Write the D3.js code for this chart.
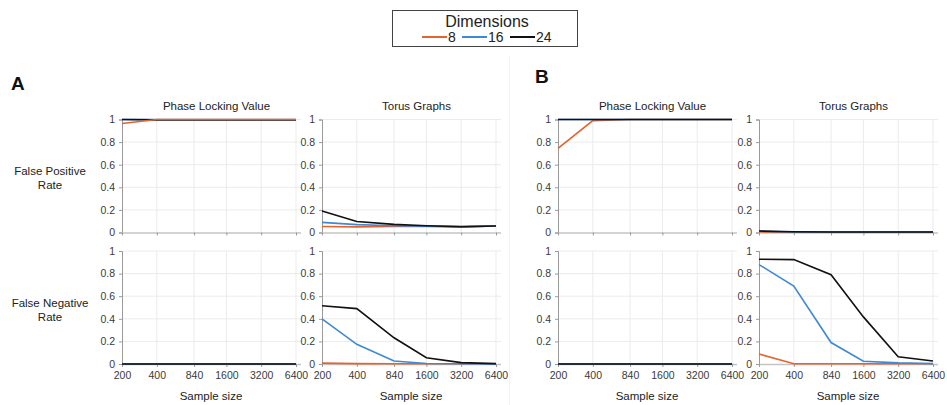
<!DOCTYPE html>
<html>
<head>
<meta charset="utf-8">
<script src="https://cdn.jsdelivr.net/npm/d3@7"></script>
<style>
body { margin: 0; background: #fff; }
svg { font-family: "Liberation Sans", Arial, sans-serif; }
.tick text { fill: #3a3a3a; font-size: 10.5px; }
.grid line { stroke: #ebebeb; stroke-width: 1; }
</style>
</head>
<body>
<svg id="chart" width="947" height="405"></svg>
<script>
// data
var sampleSizes = [200, 400, 840, 1600, 3200, 6400];
var dimensions = ['8', '16', '24'];
var colors = ['#e2642f', '#3f88d4', '#111111'];
var yTicks = [0, 0.2, 0.4, 0.6, 0.8, 1];
var methods = ['Phase Locking Value', 'Torus Graphs'];
var rates = [['False Positive', 'Rate'], ['False Negative', 'Rate']];

// each array: [dim 8, dim 16, dim 24]
var aPlvFpr = [
	[0.965, 1, 1, 1, 1, 1],
	[1, 1, 1, 1, 1, 1],
	[1, 0.997, 0.997, 0.997, 0.997, 0.997]
];
var aPlvFnr = [
	[0, 0, 0, 0, 0, 0],
	[0, 0, 0, 0, 0, 0],
	[0, 0, 0, 0, 0, 0]
];
var aTorFpr = [
	[0.053, 0.05, 0.053, 0.055, 0.05, 0.058],
	[0.09, 0.07, 0.06, 0.055, 0.05, 0.058],
	[0.19, 0.097, 0.072, 0.06, 0.052, 0.058]
];
var aTorFnr = [
	[0.008, 0.003, 0.002, 0.002, 0.002, 0.002],
	[0.40, 0.174, 0.026, 0.005, 0.002, 0],
	[0.515, 0.49, 0.232, 0.056, 0.012, 0.003]
];
var bPlvFpr = [
	[0.744, 0.99, 1, 1, 1, 1],
	[1, 1, 1, 1, 1, 1],
	[1, 1, 1, 1, 1, 1]
];
var bPlvFnr = [
	[0, 0, 0, 0, 0, 0],
	[0, 0, 0, 0, 0, 0],
	[0, 0, 0, 0, 0, 0]
];
var bTorFpr = [
	[0.004, 0.003, 0.003, 0.003, 0.003, 0.003],
	[0.012, 0.005, 0.004, 0.004, 0.004, 0.004],
	[0.013, 0.006, 0.005, 0.005, 0.005, 0.005]
];
var bTorFnr = [
	[0.088, 0.002, 0.002, 0.002, 0.002, 0.002],
	[0.88, 0.69, 0.19, 0.024, 0.01, 0.003],
	[0.927, 0.924, 0.79, 0.417, 0.064, 0.026]
];

var svg = d3.select('#chart');

// layout
var panels = [
	{ label: 'A', lx: 11, ly: 90, cols: [122, 322], rows: [[aPlvFpr, aTorFpr], [aPlvFnr, aTorFnr]], orangeOnTop: true },
	{ label: 'B', lx: 535, ly: 83, cols: [558, 759], rows: [[bPlvFpr, bTorFpr], [bPlvFnr, bTorFnr]], orangeOnTop: false }
];
var plotW = 174, extraW = 5;
var rowTops = [119.5, 251];
var plotH = 113;

// faint separator between A and B
svg.append('line')
	.attr('x1', 509.5).attr('x2', 509.5).attr('y1', 55).attr('y2', 405)
	.attr('stroke', '#f4f4f4').attr('stroke-width', 1);

panels.forEach(function(panel, pi) {
	svg.append('text').text(panel.label)
		.attr('x', panel.lx).attr('y', panel.ly)
		.style('font-size', '19px').style('font-weight', 'bold').attr('fill', '#111');

	if (pi == 0) {
		rates.forEach(function(r, ri) {
			var cy = rowTops[ri] + plotH / 2;
			var t = svg.append('text')
				.attr('text-anchor', 'middle')
				.attr('x', 50).attr('y', cy - 1)
				.style('font-size', '11.5px').attr('fill', '#222');
			t.append('tspan').attr('x', 50).attr('dy', 0).text(r[0]);
			t.append('tspan').attr('x', 50).attr('dy', 14).text(r[1]);
		});
	}

	panel.cols.forEach(function(x0, ci) {
		var x = d3.scaleLog().base(2)
			.domain([200, 6400])
			.range([x0, x0 + plotW]);

		svg.append('text').text(methods[ci])
			.attr('text-anchor', 'middle')
			.attr('x', x0 + (plotW + extraW) / 2 + 5)
			.attr('y', rowTops[0] - 10)
			.style('font-size', '11.5px').attr('fill', '#222');

		panel.rows.forEach(function(row, ri) {
			var top = rowTops[ri];
			var y = d3.scaleLinear().domain([0, 1]).range([top + plotH, top]);
			var g = svg.append('g');

			// grid
			var grid = g.append('g').attr('class', 'grid');
			grid.selectAll('.gy').data(yTicks.slice(1)).enter().append('line')
				.attr('x1', x0).attr('x2', x0 + plotW + extraW)
				.attr('y1', function(d) { return y(d); })
				.attr('y2', function(d) { return y(d); });
			grid.selectAll('.gx').data(sampleSizes.slice(1)).enter().append('line')
				.attr('x1', function(d) { return x(d); })
				.attr('x2', function(d) { return x(d); })
				.attr('y1', top).attr('y2', top + plotH);

			// axes
			var yAxis = g.append('g')
				.attr('transform', 'translate(' + x0 + ',0)')
				.call(d3.axisLeft(y).tickValues(yTicks).tickSize(3).tickPadding(4)
					.tickFormat(function(d) { return d3.format('')(+d.toFixed(1)); }));
			yAxis.select('.domain').attr('stroke', '#9a9a9a');
			yAxis.selectAll('.tick line').attr('stroke', '#9a9a9a');

			var xAxis = g.append('g')
				.attr('transform', 'translate(0,' + (top + plotH) + ')')
				.call(d3.axisBottom(x).tickValues(sampleSizes).tickSizeInner(3).tickSizeOuter(0)
					.tickPadding(5).tickFormat(ri == 1 ? d3.format('d') : ''));
			xAxis.select('.domain')
				.attr('d', 'M' + x0 + ',0.5H' + (x0 + plotW + extraW))
				.attr('stroke', '#c4c4c4').attr('stroke-width', 1.5);
			xAxis.selectAll('.tick line').attr('stroke', '#9a9a9a');

			if (ri == 1) {
				svg.append('text').text('Sample size')
					.attr('text-anchor', 'middle')
					.attr('x', x0 + plotW / 2 + 2)
					.attr('y', top + plotH + 36)
					.style('font-size', '11.5px').attr('fill', '#222');
			}

			// lines: A's top PLV panel shows black over blue, orange over both
			var line = d3.line()
				.x(function(d, i) { return x(sampleSizes[i]); })
				.y(function(d) { return y(d); });
			var order = panel.orangeOnTop && ri == 0 && ci == 0 ? [1, 2, 0] : [0, 1, 2];
			g.selectAll('.series').data(order).enter().append('path')
				.attr('class', 'series')
				.attr('d', function(k) { return line(row[ci][k]); })
				.attr('fill', 'none')
				.attr('stroke', function(k) { return colors[k]; })
				.attr('stroke-width', 1.6);
		});
	});
});

// legend
var legend = svg.append('g').attr('transform', 'translate(392,10)');
legend.append('rect')
	.attr('x', 0.5).attr('y', 0.5)
	.attr('width', 185).attr('height', 36)
	.attr('fill', '#fff').attr('stroke', '#444');
legend.append('text').text('Dimensions')
	.attr('text-anchor', 'middle')
	.attr('x', 95).attr('y', 17)
	.style('font-size', '16px').attr('fill', '#222');
var itemX = [30, 70, 118];
var items = legend.selectAll('.item').data(dimensions).enter().append('g')
	.attr('transform', function(d, i) { return 'translate(' + itemX[i] + ',27)'; });
items.append('line')
	.attr('x1', 0).attr('x2', 25)
	.attr('stroke', function(d, i) { return colors[i]; })
	.attr('stroke-width', 2);
items.append('text').text(function(d) { return d; })
	.attr('x', 26).attr('y', 5)
	.style('font-size', '14px').attr('fill', '#222');
</script>
</body>
</html>
